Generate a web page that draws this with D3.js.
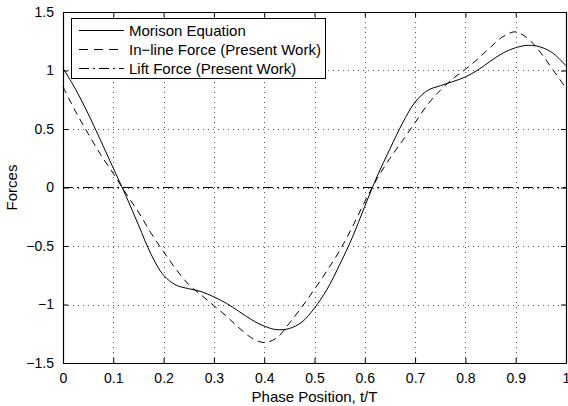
<!DOCTYPE html>
<html>
<head>
<meta charset="utf-8">
<script src="https://cdn.jsdelivr.net/npm/d3@7"></script>
<style>
  body { margin: 0; background: #fff; }
  text { font-family: "Liberation Sans", Arial, sans-serif; fill: #000; }
</style>
</head>
<body>
<div class="chart"></div>
<script>
// phase positions (t/T) where the curves were read
const phase = [0, 0.025, 0.05, 0.075, 0.1, 0.125, 0.15, 0.175, 0.2, 0.225, 0.25, 0.275, 0.3, 0.325,
  0.35, 0.375, 0.4, 0.425, 0.45, 0.475, 0.5, 0.525, 0.55, 0.575, 0.6, 0.625, 0.65, 0.675, 0.7,
  0.725, 0.75, 0.775, 0.8, 0.825, 0.85, 0.875, 0.9, 0.925, 0.95, 0.975, 1];

const morison = [1.02, 0.84, 0.63, 0.40, 0.165, -0.07, -0.32, -0.57, -0.75, -0.835, -0.865, -0.89,
  -0.935, -0.99, -1.06, -1.13, -1.185, -1.215, -1.205, -1.15, -1.03, -0.87, -0.66, -0.43, -0.16,
  0.10, 0.33, 0.55, 0.73, 0.83, 0.87, 0.905, 0.945, 1.005, 1.08, 1.15, 1.195, 1.215, 1.2, 1.145, 1.04];

const inline = [0.86, 0.65, 0.46, 0.28, 0.12, -0.05, -0.21, -0.39, -0.55, -0.70, -0.83, -0.92,
  -1.01, -1.10, -1.20, -1.285, -1.325, -1.285, -1.16, -1.02, -0.87, -0.71, -0.54, -0.34, -0.12,
  0.08, 0.25, 0.40, 0.555, 0.71, 0.83, 0.93, 1.01, 1.10, 1.20, 1.29, 1.33, 1.27, 1.15, 1.00, 0.85];

const lift = [0, 0];
const liftPhase = [0, 1];

const xTicks = [0, 0.1, 0.2, 0.3, 0.4, 0.5, 0.6, 0.7, 0.8, 0.9, 1];
const yTicks = [-1.5, -1, -0.5, 0, 0.5, 1, 1.5];
const legendLabels = ["Morison Equation", "In\u2212line Force (Present Work)", "Lift Force (Present Work)"];

const width = 568, height = 406;
const margin = {left: 63, right: 2, top: 12, bottom: 43};

const svg = d3.select(".chart").append("svg")
  .attr("width", width).attr("height", height);

const x = d3.scaleLinear().domain([0, 1]).range([margin.left, width - margin.right]);
const y = d3.scaleLinear().domain([-1.5, 1.5]).range([height - margin.bottom, margin.top]);

const fmt = function(d) { return String(d).replace("-", "\u2212"); };

// grid
const grid = svg.append("g").attr("stroke", "#555").attr("stroke-width", 1)
  .attr("stroke-dasharray", "1,4");
grid.selectAll(".gx").data(xTicks.slice(1, -1)).enter().append("line")
  .attr("x1", d => Math.round(x(d)) + 0.5).attr("x2", d => Math.round(x(d)) + 0.5)
  .attr("y1", y(1.5)).attr("y2", y(-1.5));
grid.selectAll(".gy").data(yTicks.slice(1, -1)).enter().append("line")
  .attr("y1", d => Math.round(y(d)) + 0.5).attr("y2", d => Math.round(y(d)) + 0.5)
  .attr("x1", x(0)).attr("x2", x(1));

// curves
const line = d3.line().curve(d3.curveCatmullRom.alpha(0.5));
const series = [
  {t: phase, v: morison, dash: null},
  {t: phase, v: inline, dash: "7,5"},
  {t: liftPhase, v: lift, dash: "10,4,2,4"}
];
const dashes = series.map(s => s.dash);
svg.append("g").selectAll("path").data(series).enter().append("path")
  .attr("d", s => line(s.t.map((t, i) => [x(t), y(s.v[i])])))
  .attr("fill", "none").attr("stroke", "#000").attr("stroke-width", 1)
  .attr("stroke-dasharray", s => s.dash);

// axes (ticks inward, box)
const tick = 5;
svg.append("g").attr("transform", `translate(0,${y(-1.5)})`)
  .call(d3.axisBottom(x).tickValues(xTicks).tickFormat(fmt).tickSizeInner(-tick).tickSizeOuter(0).tickPadding(10));
svg.append("g").attr("transform", `translate(0,${y(1.5)})`)
  .call(d3.axisTop(x).tickValues(xTicks).tickFormat("").tickSizeInner(-tick).tickSizeOuter(0));
svg.append("g").attr("transform", `translate(${x(0)},0)`)
  .call(d3.axisLeft(y).tickValues(yTicks).tickFormat(fmt).tickSizeInner(-tick).tickSizeOuter(0).tickPadding(9));
svg.append("g").attr("transform", `translate(${x(1)},0)`)
  .call(d3.axisRight(y).tickValues(yTicks).tickFormat("").tickSizeInner(-tick).tickSizeOuter(0));

svg.selectAll(".domain").attr("stroke", "#000").attr("stroke-width", 1.2);
svg.selectAll(".tick line").attr("stroke", "#000");
svg.selectAll(".tick text").attr("font-size", 14).attr("font-family", "Liberation Sans, Arial, sans-serif");

// axis titles
svg.append("text").attr("x", x(0.5)).attr("y", 402).attr("text-anchor", "middle")
  .attr("font-size", 15).text("Phase Position, t/T");
svg.append("text").attr("transform", `translate(17,${y(0)}) rotate(-90)`).attr("text-anchor", "middle")
  .attr("font-size", 15).text("Forces");

// legend
const lg = svg.append("g");
lg.append("rect").attr("x", 71.5).attr("y", 18.5).attr("width", 254).attr("height", 60)
  .attr("fill", "#fff").attr("stroke", "#000").attr("stroke-width", 1);
const rows = lg.selectAll(".row").data(legendLabels).enter().append("g")
  .attr("transform", (d, i) => `translate(0,${30 + i * 19})`);
rows.append("line").attr("x1", 79).attr("x2", 124).attr("y1", 0.5).attr("y2", 0.5)
  .attr("stroke", "#000").attr("stroke-width", 1)
  .attr("stroke-dasharray", (d, i) => i === 1 ? "9,6" : dashes[i]);
rows.append("text").attr("x", 129).attr("y", 5.5).attr("font-size", 15).text(d => d);
</script>
</body>
</html>
